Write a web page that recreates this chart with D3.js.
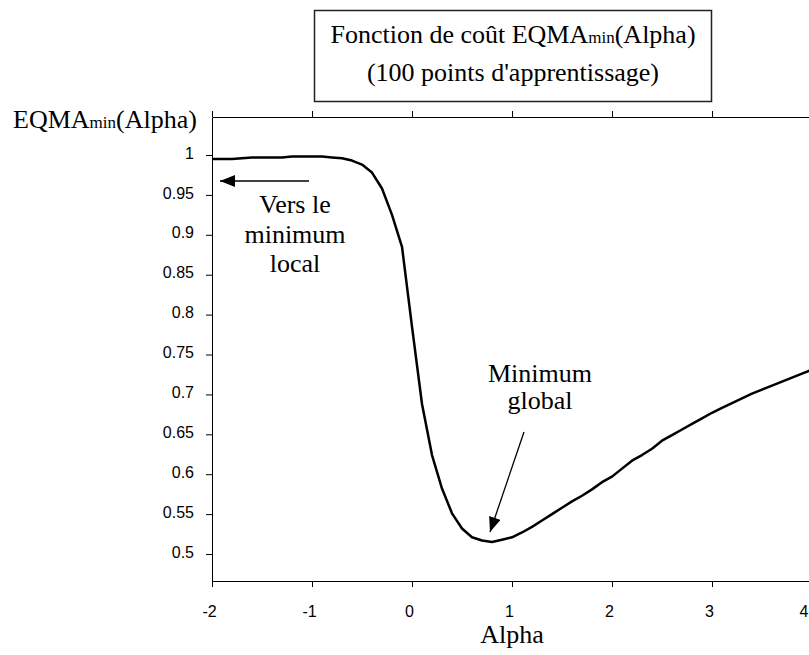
<!DOCTYPE html>
<html>
<head>
<meta charset="utf-8">
<script src="https://cdn.jsdelivr.net/npm/d3@7"></script>
<style>
  body { margin: 0; background: #fff; }
  svg { display: block; }
</style>
</head>
<body>
<div id="chart"></div>
<script>
// chart data
var alpha = [-2.0, -1.9, -1.8, -1.7, -1.6, -1.5, -1.4, -1.3, -1.2, -1.1,
  -1.0, -0.9, -0.8, -0.7, -0.6, -0.5, -0.4, -0.3, -0.2, -0.1,
  0.0, 0.1, 0.2, 0.3, 0.4, 0.5, 0.6, 0.7, 0.8, 0.9,
  1.0, 1.1, 1.2, 1.3, 1.4, 1.5, 1.6, 1.7, 1.8, 1.9,
  2.0, 2.1, 2.2, 2.3, 2.4, 2.5, 2.6, 2.7, 2.8, 2.9,
  3.0, 3.1, 3.2, 3.3, 3.4, 3.5, 3.6, 3.7, 3.8, 3.9, 4.0];
var eqma = [0.995, 0.995, 0.995, 0.996, 0.997, 0.997, 0.997, 0.997, 0.998, 0.998,
  0.998, 0.998, 0.997, 0.996, 0.993, 0.988, 0.978, 0.958, 0.925, 0.885,
  0.785, 0.688, 0.624, 0.582, 0.551, 0.532, 0.521, 0.517, 0.515, 0.518,
  0.521, 0.527, 0.534, 0.542, 0.550, 0.558, 0.566, 0.573, 0.581, 0.590,
  0.597, 0.607, 0.617, 0.624, 0.632, 0.642, 0.649, 0.656, 0.663, 0.670,
  0.677, 0.683, 0.689, 0.695, 0.701, 0.706, 0.711, 0.716, 0.721, 0.726, 0.731];

var xTicks = [-2, -1, 0, 1, 2, 3, 4];
var xTickLabels = ["-2", "-1", "0", "1", "2", "3", "4"];
var yTicks = [1, 0.95, 0.9, 0.85, 0.8, 0.75, 0.7, 0.65, 0.6, 0.55, 0.5];
var yTickLabels = ["1", "0.95", "0.9", "0.85", "0.8", "0.75", "0.7", "0.65", "0.6", "0.55", "0.5"];

// axis bounds of the plot frame
var xDomain = [-2, 4];
var yDomain = [0.4662, 1.0476];

var width = 809;
var height = 655;
var margin = { top: 117, right: -3, bottom: 74, left: 212 };

var serif = "'Liberation Serif', 'Times New Roman', serif";
var sans = "'Liberation Sans', Arial, sans-serif";

var svg = d3.select("#chart")
  .append("svg")
  .attr("width", width)
  .attr("height", height);

var x = d3.scaleLinear()
  .domain(xDomain)
  .range([margin.left, width - margin.right]);

var y = d3.scaleLinear()
  .domain(yDomain)
  .range([height - margin.bottom, margin.top]);

// bottom axis
svg.append("g")
  .attr("transform", `translate(0, ${height - margin.bottom})`)
  .call(d3.axisBottom(x).tickValues(xTicks).tickSize(6).tickPadding(19).tickSizeOuter(0)
    .tickFormat((d, i) => xTickLabels[i]))
  .attr("font-family", sans)
  .attr("font-size", 16)
  .call(g => g.selectAll("line, path").attr("stroke", "#000"))
  .call(g => g.selectAll(".tick text").attr("dx", "-3").attr("fill", "#000"))
  .call(g => g.selectAll(".tick text").filter(d => d === 4)
    .attr("text-anchor", "end").attr("dx", null)
    .attr("x", width - 1 - x(4)));

// top frame line with outward ticks
svg.append("g")
  .attr("transform", `translate(0, ${margin.top})`)
  .call(d3.axisTop(x).tickValues(xTicks).tickSize(6).tickFormat("").tickSizeOuter(0))
  .call(g => g.selectAll("line, path").attr("stroke", "#000"));

// left axis
svg.append("g")
  .attr("transform", `translate(${margin.left}, 0)`)
  .call(d3.axisLeft(y).tickValues(yTicks).tickSize(6).tickPadding(12).tickSizeOuter(0)
    .tickFormat((d, i) => yTickLabels[i]))
  .attr("font-family", sans)
  .attr("font-size", 16)
  .call(g => g.selectAll("line, path").attr("stroke", "#000"))
  .call(g => g.selectAll(".tick text").attr("fill", "#000").attr("dy", "0.2em"));

// the curve
var points = alpha.map((a, i) => [a, eqma[i]]);
svg.append("path")
  .datum(points)
  .attr("fill", "none")
  .attr("stroke", "#000")
  .attr("stroke-width", 2.5)
  .attr("stroke-linejoin", "round")
  .attr("d", d3.line().x(d => x(d[0])).y(d => y(d[1])));

// arrow heads
var defs = svg.append("defs");
defs.append("marker")
  .attr("id", "head")
  .attr("viewBox", "0 0 15 12")
  .attr("refX", 15)
  .attr("refY", 6)
  .attr("markerWidth", 15)
  .attr("markerHeight", 12)
  .attr("markerUnits", "userSpaceOnUse")
  .attr("orient", "auto")
  .append("path")
  .attr("d", "M0,0 L15,6 L0,12 Z")
  .attr("fill", "#000");

// "vers le minimum local" arrow
svg.append("line")
  .attr("x1", x(-1.03)).attr("y1", y(0.9674))
  .attr("x2", x(-1.92)).attr("y2", y(0.9674))
  .attr("stroke", "#000")
  .attr("stroke-width", 1.3)
  .attr("marker-end", "url(#head)");

// "minimum global" arrow
svg.append("line")
  .attr("x1", x(1.12)).attr("y1", y(0.653))
  .attr("x2", x(0.78)).attr("y2", y(0.5275))
  .attr("stroke", "#000")
  .attr("stroke-width", 1.3)
  .attr("marker-end", "url(#head)");

// annotation text
function addLines(lines, cx, y0, lh) {
  lines.forEach(function(t, i) {
    svg.append("text")
      .attr("font-family", serif)
      .attr("x", cx)
      .attr("y", y0 + i * lh)
      .attr("text-anchor", "middle")
      .attr("font-size", 26)
      .text(t);
  });
}
addLines(["Vers le", "minimum", "local"], 295, 213, 29.5);
addLines(["Minimum", "global"], 540, 382, 27);

// title box
svg.append("rect")
  .attr("x", 314.5).attr("y", 10.5)
  .attr("width", 397).attr("height", 91)
  .attr("fill", "#fff")
  .attr("stroke", "#222")
  .attr("stroke-width", 1.5);

var t1 = svg.append("text")
  .attr("font-family", serif)
  .attr("x", 513).attr("y", 43)
  .attr("text-anchor", "middle")
  .attr("font-size", 26);
t1.append("tspan").text("Fonction de coût EQMA");
t1.append("tspan").attr("font-size", 17).text("min");
t1.append("tspan").text("(Alpha)");

svg.append("text")
  .attr("font-family", serif)
  .attr("x", 513).attr("y", 81)
  .attr("text-anchor", "middle")
  .attr("font-size", 26)
  .text("(100 points d'apprentissage)");

// y axis title
var yt = svg.append("text")
  .attr("font-family", serif)
  .attr("x", 13).attr("y", 128)
  .attr("font-size", 26);
yt.append("tspan").text("EQMA");
yt.append("tspan").attr("font-size", 17).text("min");
yt.append("tspan").text("(Alpha)");

// x axis title
svg.append("text")
  .attr("font-family", serif)
  .attr("x", 512).attr("y", 643)
  .attr("text-anchor", "middle")
  .attr("font-size", 26)
  .text("Alpha");
</script>
</body>
</html>
